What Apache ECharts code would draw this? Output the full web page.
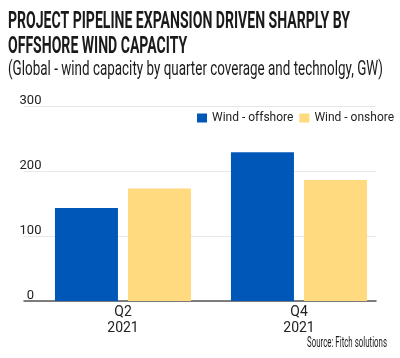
<!DOCTYPE html>
<html><head><meta charset="utf-8">
<script src="https://cdn.jsdelivr.net/npm/echarts@6/dist/echarts.min.js"></script>
<style>html,body{margin:0;padding:0;background:#fff}#c{width:400px;height:358px}</style>
</head><body><div id="c"></div>
<script>
var categories = ['Q2\n2021', 'Q4\n2021'];
var offshore = [143, 229];
var onshore = [173, 186];
var yTicks = [0, 100, 200, 300];
var seriesNames = ['Wind - offshore', 'Wind - onshore'];

var chart = echarts.init(document.getElementById('c'), null, {renderer: 'canvas'});
var ctx = document.createElement('canvas').getContext('2d');
function fitScale(text, font, target) {
  ctx.font = font;
  return target / ctx.measureText(text).width;
}
var t1 = 'PROJECT PIPELINE EXPANSION DRIVEN SHARPLY BY';
var t2 = 'OFFSHORE WIND CAPACITY';
var sub = '(Global - wind capacity by quarter coverage and technolgy, GW)';
var src = 'Source: Fitch solutions';
var tf = 'bold 24px Roboto';
var s1 = fitScale(t1, tf, 342);
var sf = '20px Roboto';
var s2 = fitScale(sub, sf, 375);
var srcf = '14px Roboto';
var s3 = fitScale(src, srcf, 80);
var lf = 'Roboto';

chart.setOption({
  animation: false,
  backgroundColor: '#fff',
  graphic: [
    {type: 'text', left: 8, top: 10, scaleX: s1, style: {text: t1, font: tf, fill: '#1a1a1a'}},
    {type: 'text', left: 8, top: 35, scaleX: s1, style: {text: t2, font: tf, fill: '#1a1a1a'}},
    {type: 'text', left: 8, top: 60, scaleX: s2, style: {text: sub, font: sf, fill: '#1a1a1a'}},
    {type: 'text', right: 13, top: 336, scaleX: s3, style: {text: src, font: srcf, fill: '#1a1a1a'}}
  ],
  legend: {
    left: 192, top: 107, width: 208, itemWidth: 10, itemHeight: 9, itemGap: 6,
    icon: 'rect', data: seriesNames,
    textStyle: {fontFamily: lf, fontSize: 12, color: '#222'}
  },
  grid: [
    {left: 24, right: 24, top: 106, bottom: 57},
    {left: 35, right: 13, top: 106, bottom: 57}
  ],
  xAxis: [
    {type: 'category', gridIndex: 0, data: categories,
     axisLine: {lineStyle: {color: '#555', width: 1.5}}, axisTick: {show: false}, axisLabel: {show: false}},
    {type: 'category', gridIndex: 1, data: categories,
     axisLine: {show: false}, axisTick: {show: false},
     axisLabel: {fontFamily: lf, fontSize: 14, color: '#222', lineHeight: 16, margin: 3}}
  ],
  yAxis: [
    {type: 'value', gridIndex: 0, min: 0, max: 300, interval: 100,
     axisLine: {show: false}, axisTick: {show: false},
     splitLine: {lineStyle: {color: '#e8e8e8', width: 1}},
     axisLabel: {fontFamily: lf, fontSize: 13, color: '#222', align: 'center', verticalAlign: 'bottom', lineHeight: 11, margin: -6.5,
       formatter: function (v) { return yTicks.indexOf(v) >= 0 ? String(v) : ''; }}},
    {type: 'value', gridIndex: 1, min: 0, max: 300, interval: 100, show: false}
  ],
  series: [
    {name: seriesNames[0], type: 'bar', xAxisIndex: 1, yAxisIndex: 1, data: offshore,
     barWidth: 63, barGap: '16%', itemStyle: {color: '#0057B7'}},
    {name: seriesNames[1], type: 'bar', xAxisIndex: 1, yAxisIndex: 1, data: onshore,
     barWidth: 63, barGap: '16%', itemStyle: {color: '#FFDA7E'}}
  ]
});
</script></body></html>
